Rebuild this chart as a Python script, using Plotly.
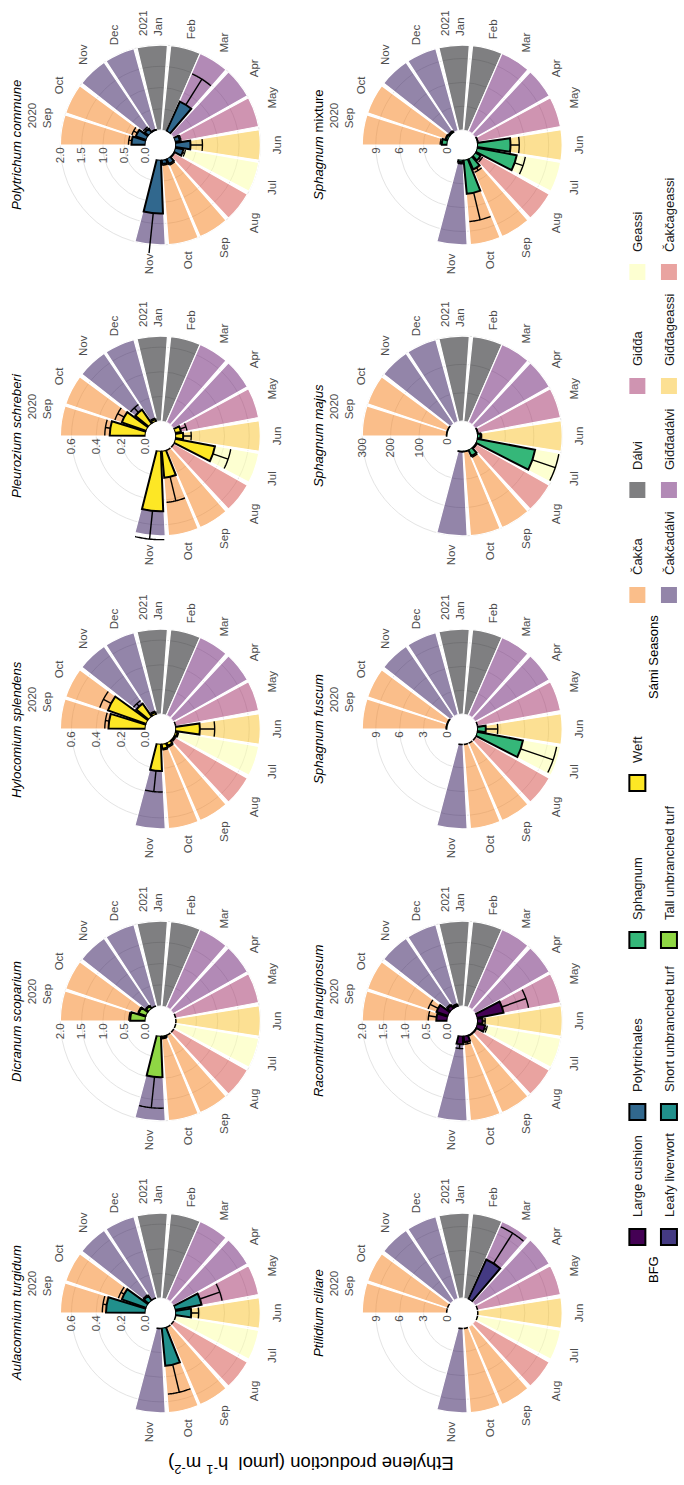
import pandas as pd
import plotly.graph_objects as go

# Figure is laid out landscape and turned a quarter turn for display
W, H = 1485, 684
FONT = "Liberation Sans, Arial, sans-serif"

# ---- time axis -------------------------------------------------------------
MONTHS = ["2020-09-01", "2020-10-01", "2020-11-01", "2020-12-01", "2021-01-01",
          "2021-02-01", "2021-03-01", "2021-04-01", "2021-05-01", "2021-06-01",
          "2021-07-01", "2021-08-01", "2021-09-01", "2021-10-01", "2021-11-01"]
MONTH_LABELS = ["2020<br>Sep", "Oct", "Nov", "Dec", "2021<br>Jan", "Feb", "Mar",
                "Apr", "May", "Jun", "Jul", "Aug", "Sep", "Oct", "Nov"]
AXIS_START = "2020-08-18"
AXIS_DAYS = 574

# ---- Sámi seasons ----------------------------------------------------------
SEASONS = ["Čakča", "Čakčadálvi", "Dálvi", "Giđđadálvi",
           "Giđđa", "Giđđageassi", "Geassi", "Čakčageassi"]
SEASON_COLORS = ["rgba(245,125,21,0.5)", "rgba(40,11,84,0.5)", "rgba(0,0,4,0.5)",
                 "rgba(101,21,110,0.5)", "rgba(159,42,99,0.5)", "rgba(250,193,39,0.5)",
                 "rgba(252,255,164,0.5)", "rgba(212,72,66,0.5)"]
MONTH_SEASON = ["Čakča", "Čakča", "Čakčadálvi", "Čakčadálvi", "Dálvi", "Dálvi",
                "Giđđadálvi", "Giđđadálvi", "Giđđa", "Giđđageassi", "Geassi",
                "Čakčageassi", "Čakča", "Čakča", "Čakčadálvi"]

# ---- bryophyte functional groups ---------------------------------------------
BFG = ["Large cushion", "Leafy liverwort", "Polytrichales", "Short unbranched turf",
       "Sphagnum", "Tall unbranched turf", "Weft"]
BFG_COLORS = ["#440154", "#443A83", "#31688E", "#21908C", "#35B779", "#8FD744", "#FDE725"]

# ---- species panels ----------------------------------------------------------
SPECIES = ["Aulacomnium turgidum", "Dicranum scoparium", "Hylocomium splendens",
           "Pleurozium schreberi", "Polytrichum commune", "Ptilidium ciliare",
           "Racomitrium lanuginosum", "Sphagnum fuscum", "Sphagnum majus",
           "Sphagnum mixture"]
SPECIES_TITLES = ["<i>Aulacomnium turgidum</i>", "<i>Dicranum scoparium</i>",
                  "<i>Hylocomium splendens</i>", "<i>Pleurozium schreberi</i>",
                  "<i>Polytrichum commune</i>", "<i>Ptilidium ciliare</i>",
                  "<i>Racomitrium lanuginosum</i>", "<i>Sphagnum fuscum</i>",
                  "<i>Sphagnum majus</i>", "<i>Sphagnum</i> mixture"]
SPECIES_BFG = ["Short unbranched turf", "Tall unbranched turf", "Weft", "Weft",
               "Polytrichales", "Leafy liverwort", "Large cushion",
               "Sphagnum", "Sphagnum", "Sphagnum"]
# height of the season backdrop in each panel (data units)
PANEL_TOP = [0.69, 2.0, 0.69, 0.69, 2.0, 10.7, 2.0, 10.7, 300, 10.7]
RADIAL_TICKS = [[0, 0.2, 0.4, 0.6], [0, 0.5, 1.0, 1.5, 2.0], [0, 0.2, 0.4, 0.6],
                [0, 0.2, 0.4, 0.6], [0, 0.5, 1.0, 1.5, 2.0], [0, 3, 6, 9],
                [0, 0.5, 1.0, 1.5, 2.0], [0, 3, 6, 9], [0, 100, 200, 300], [0, 3, 6, 9]]
RADIAL_FORMAT = [".1f", ".1f", ".1f", ".1f", ".1f", "d", ".1f", "d", "d", "d"]

# Ethylene production per month (mean and standard error), µmol h-1 m-2
#                  Sep   Oct   Nov   Dec   Jan   Feb   Mar   Apr   May   Jun   Jul   Aug   Sep   Oct   Nov
AULACOMNIUM_MEAN = [0.32, 0.21, 0.05, 0.0, None, None, None, None, 0.22, 0.13, 0.0, 0.0, 0.0, 0.31, 0.0]
AULACOMNIUM_SE = [0.03, 0.03, 0.01, 0.0, None, None, None, None, 0.17, 0.06, 0.0, 0.0, 0.0, 0.23, 0.0]
DICRANUM_MEAN = [0.36, 0.19, 0.08, 0.0, None, None, None, None, 0.0, 0.0, 0.0, 0.0, 0.0, 0.05, 0.97]
DICRANUM_SE = [0.03, 0.02, 0.02, 0.0, None, None, None, None, 0.0, 0.0, 0.0, 0.0, 0.0, 0.02, 0.73]
HYLOCOMIUM_MEAN = [0.30, 0.33, 0.13, 0.02, None, None, None, None, 0.0, 0.20, 0.02, 0.01, 0.03, 0.04, 0.22]
HYLOCOMIUM_SE = [0.03, 0.07, 0.03, 0.01, None, None, None, None, 0.0, 0.12, 0.01, 0.01, 0.01, 0.01, 0.17]
PLEUROZIUM_MEAN = [0.29, 0.21, 0.14, 0.02, None, None, None, None, 0.05, 0.065, 0.33, 0.0, 0.0, 0.22, 0.49]
PLEUROZIUM_SE = [0.04, 0.06, 0.05, 0.01, None, None, None, None, 0.05, 0.065, 0.13, 0.0, 0.0, 0.20, 0.23]
POLYTRICHUM_MEAN = [0.33, 0.26, 0.12, 0.02, None, None, 0.77, None, 0.12, 0.36, 0.20, 0.02, 0.14, 0.10, 1.26]
POLYTRICHUM_SE = [0.07, 0.10, 0.05, 0.01, None, None, 0.71, None, 0.03, 0.28, 0.05, 0.01, 0.03, 0.03, 1.02]
PTILIDIUM_MEAN = [0.0, 0.0, None, None, None, None, 5.5, None, 0.0, 0.0, 0.0, None, None, 0.0, 0.0]
PTILIDIUM_SE = [0.0, 0.0, None, None, None, None, 4.5, None, 0.0, 0.0, 0.0, None, None, 0.0, 0.0]
RACOMITRIUM_MEAN = [0.26, 0.29, 0.10, 0.05, None, None, None, None, 0.64, 0.13, 0.20, 0.02, 0.02, 0.15, 0.20]
RACOMITRIUM_SE = [0.19, 0.21, 0.03, 0.02, None, None, None, None, 0.60, 0.06, 0.05, 0.01, 0.01, 0.05, 0.10]
SFUSCUM_MEAN = [0.1, 0.1, None, None, None, None, None, None, 0.0, 1.1, 5.9, 0.0, 0.0, 0.0, 0.0]
SFUSCUM_SE = [0.05, 0.05, None, None, None, None, None, None, 0.0, 1.5, 4.3, 0.0, 0.0, 0.0, 0.0]
SMAJUS_MEAN = [2, 2, None, None, None, None, None, None, 3, 12, 209, 4, 25, 2, 2]
SMAJUS_SE = [1, 1, None, None, None, None, None, None, 1, 4, 85, 2, 5, 1, 1]
SMIXTURE_MEAN = [0.7, 0.3, 0.2, None, None, None, None, None, 0.1, 4.2, 5.1, 0.8, 1.5, 4.3, 0.3]
SMIXTURE_SE = [0.2, 0.1, 0.1, None, None, None, None, None, 0.05, 1.1, 1.1, 0.3, 0.4, 3.5, 0.2]

SPECIES_MEAN = [AULACOMNIUM_MEAN, DICRANUM_MEAN, HYLOCOMIUM_MEAN, PLEUROZIUM_MEAN,
                POLYTRICHUM_MEAN, PTILIDIUM_MEAN, RACOMITRIUM_MEAN, SFUSCUM_MEAN,
                SMAJUS_MEAN, SMIXTURE_MEAN]
SPECIES_SE = [AULACOMNIUM_SE, DICRANUM_SE, HYLOCOMIUM_SE, PLEUROZIUM_SE,
              POLYTRICHUM_SE, PTILIDIUM_SE, RACOMITRIUM_SE, SFUSCUM_SE,
              SMAJUS_SE, SMIXTURE_SE]

# ---- geometry (pixels in the landscape layout) -------------------------------
COL_X = [172, 464, 756, 1049, 1340]
ROW_Y = [162, 467]
R_OUTER = 110      # polar frame radius (month labels sit just outside)
R_BACKDROP = 101   # radius reached by the season backdrop
R_ZERO = 15        # radius of the zero line (inner hole)
HOLE = R_ZERO / R_OUTER
STRETCH = (R_OUTER - R_ZERO) / (R_BACKDROP - R_ZERO)
BG_WIDTH = 28      # days
BAR_WIDTH = 26     # days
CAP_HALF = 13      # days
TICK_SIZE = 11.5

DAY_AXIS = pd.date_range(AXIS_START, periods=AXIS_DAYS, freq="D").strftime("%Y-%m-%d").tolist()
season_color = dict(zip(SEASONS, SEASON_COLORS))
bfg_color = dict(zip(BFG, BFG_COLORS))


def shifted(day, offset):
    return (pd.Timestamp(day) + pd.Timedelta(days=offset)).strftime("%Y-%m-%d")


fig = go.Figure()
layout = {}

for k, name in enumerate(SPECIES):
    sub = "polar" if k == 0 else f"polar{k + 1}"
    cx, cy = COL_X[k % 5], ROW_Y[k // 5]
    top = PANEL_TOP[k]
    means, ses = SPECIES_MEAN[k], SPECIES_SE[k]
    fill = bfg_color[SPECIES_BFG[k]]

    # season backdrop
    fig.add_trace(go.Barpolar(
        theta=MONTHS, r=[top] * len(MONTHS), width=[BG_WIDTH] * len(MONTHS),
        marker=dict(color=[season_color[s] for s in MONTH_SEASON],
                    line=dict(color="white", width=1.2)),
        subplot=sub, showlegend=False, hoverinfo="skip"))

    # measured bars
    bar_theta = [m for m, v in zip(MONTHS, means) if v is not None and v > 0]
    bar_r = [v for v in means if v is not None and v > 0]
    fig.add_trace(go.Barpolar(
        theta=bar_theta, r=bar_r, width=[BAR_WIDTH] * len(bar_r),
        marker=dict(color=fill, line=dict(color="black", width=2)),
        subplot=sub, showlegend=False, name=name))

    # error bars (upper arm and cap) and outlines of zero-height bars
    err_t, err_r, zero_t, zero_r = [], [], [], []
    for m, v, s in zip(MONTHS, means, ses):
        if v is None:
            continue
        if v == 0:
            for d in range(-CAP_HALF, CAP_HALF + 1):
                zero_t.append(shifted(m, d))
                zero_r.append(0)
            zero_t.append(None)
            zero_r.append(None)
            continue
        if s and s > 0:
            err_t += [m, m, None]
            err_r += [v, v + s, None]
            for d in range(-CAP_HALF, CAP_HALF + 1):
                err_t.append(shifted(m, d))
                err_r.append(v + s)
            err_t.append(None)
            err_r.append(None)
    fig.add_trace(go.Scatterpolar(
        theta=err_t, r=err_r, mode="lines", line=dict(color="black", width=1.4),
        subplot=sub, showlegend=False, hoverinfo="skip"))
    if zero_t:
        fig.add_trace(go.Scatterpolar(
            theta=zero_t, r=zero_r, mode="lines", line=dict(color="black", width=3),
            subplot=sub, showlegend=False, hoverinfo="skip", cliponaxis=False))

    ticks = RADIAL_TICKS[k]
    layout[sub] = dict(
        domain=dict(x=[(cx - R_OUTER) / W, (cx + R_OUTER) / W],
                    y=[1 - (cy + R_OUTER) / H, 1 - (cy - R_OUTER) / H]),
        hole=HOLE,
        barmode="overlay",
        bgcolor="rgba(0,0,0,0)",
        angularaxis=dict(
            type="category", categoryorder="array", categoryarray=DAY_AXIS,
            period=AXIS_DAYS, rotation=90, direction="clockwise",
            tickmode="array", tickvals=MONTHS, ticktext=MONTH_LABELS,
            showgrid=False, showline=False, ticks="",
            tickfont=dict(family=FONT, size=TICK_SIZE, color="#4D4D4D")),
        radialaxis=dict(
            range=[0, top * STRETCH], autorange=False, tickmode="array", tickvals=ticks,
            ticktext=[format(t, RADIAL_FORMAT[k]) for t in ticks],
            angle=90, side="counterclockwise", tickangle=90,
            showline=False, ticks="", gridcolor="#E4E4E4", gridwidth=1,
            tickfont=dict(family=FONT, size=TICK_SIZE, color="#4D4D4D")),
    )

# ---- legends: one per key so columns line up like a two-row guide ------------
BFG_KEY_X = [248, 248, 373, 373, 545, 545, 702]
BFG_KEY_Y = [644, 676, 644, 676, 644, 676, 644]
SEASON_KEY_X = [890, 890, 995, 995, 1099, 1099, 1213, 1213]
SEASON_KEY_Y = [644, 676, 644, 676, 644, 676, 644, 676]
SEASON_ORDER = ["Čakča", "Čakčadálvi", "Dálvi", "Giđđadálvi",
                "Giđđa", "Giđđageassi", "Geassi", "Čakčageassi"]

entries = []
for lab, kx, ky in zip(BFG, BFG_KEY_X, BFG_KEY_Y):
    entries.append((lab, bfg_color[lab], "black", 2, kx, ky))
for lab, kx, ky in zip(SEASON_ORDER, SEASON_KEY_X, SEASON_KEY_Y):
    entries.append((lab, season_color[lab], "rgba(0,0,0,0)", 0, kx, ky))

for j, (lab, col, lc, lw, kx, ky) in enumerate(entries):
    lg = "legend" if j == 0 else f"legend{j + 1}"
    fig.add_trace(go.Scatterpolar(
        r=[None], theta=[None], mode="markers", name=lab, legend=lg,
        marker=dict(symbol="square", size=16, color=col, line=dict(color=lc, width=lw)),
        subplot="polar", hoverinfo="skip"))
    layout[lg] = dict(
        x=(kx - 20) / W, xanchor="left", y=1 - ky / H, yanchor="middle",
        bgcolor="rgba(0,0,0,0)", borderwidth=0, itemclick=False, itemdoubleclick=False,
        font=dict(family=FONT, size=13, color="#1A1A1A"))

annotations = []
for k, title in enumerate(SPECIES_TITLES):
    cx, cy = COL_X[k % 5], ROW_Y[k // 5]
    annotations.append(dict(
        text=title, x=cx / W, y=1 - (cy - 145) / H, xref="paper", yref="paper",
        xanchor="center", yanchor="middle", showarrow=False,
        font=dict(family=FONT, size=13.2, color="black")))
annotations.append(dict(
    text="Ethylene production (µmol  h<sup>-1</sup> m<sup>-2</sup>)",
    x=20 / W, y=1 - 314 / H, xref="paper", yref="paper", textangle=-90,
    xanchor="center", yanchor="middle", showarrow=False,
    font=dict(family=FONT, size=18.5, color="black")))
annotations.append(dict(
    text="BFG", x=215 / W, y=1 - 660 / H, xref="paper", yref="paper",
    xanchor="center", yanchor="middle", showarrow=False,
    font=dict(family=FONT, size=13, color="black")))
annotations.append(dict(
    text="Sámi Seasons", x=828 / W, y=1 - 660 / H, xref="paper", yref="paper",
    xanchor="center", yanchor="middle", showarrow=False,
    font=dict(family=FONT, size=13, color="black")))

fig.update_layout(
    width=W, height=H, margin=dict(l=0, r=0, t=0, b=0),
    paper_bgcolor="white", plot_bgcolor="white",
    font=dict(family=FONT, size=12, color="#1A1A1A"),
    annotations=annotations, **layout)

# turn the landscape page a quarter turn counter-clockwise for the portrait view
ROTATE = """
var gd = document.getElementById('{plot_id}');
document.documentElement.style.margin = '0';
document.documentElement.style.overflow = 'hidden';
document.body.style.margin = '0';
document.body.style.overflow = 'hidden';
gd.style.position = 'absolute';
gd.style.left = '0px';
gd.style.top = '0px';
gd.style.transformOrigin = '0 0';
gd.style.transform = 'translate(0px, %dpx) rotate(-90deg)';
""" % W

fig.write_html("out.html", post_script=ROTATE, config={"displayModeBar": False})
